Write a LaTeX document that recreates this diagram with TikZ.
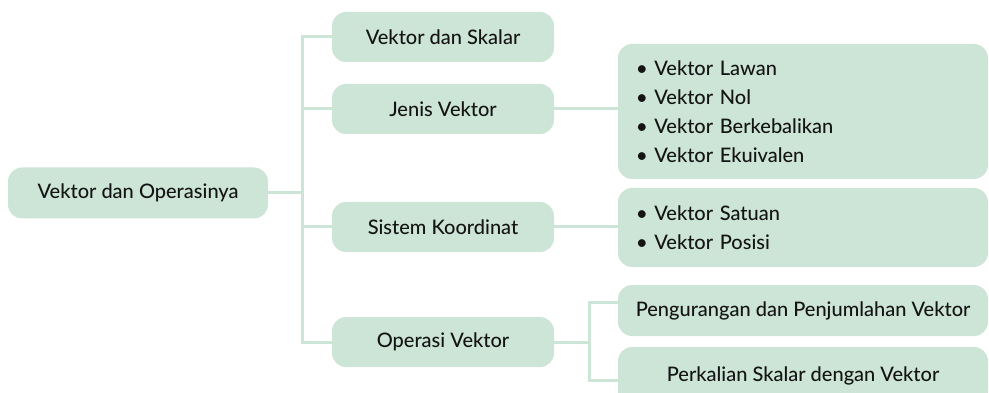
\documentclass[tikz,border=0pt]{standalone}
\usepackage{fontspec}
\setmainfont{Lato}[UprightFont={* Medium}]
\definecolor{boxgreen}{RGB}{205,229,214}
\definecolor{textc}{RGB}{20,20,20}
\begin{document}
\begin{tikzpicture}[x=1pt,y=-1pt,
  box/.style={fill=boxgreen, rounded corners=14pt, text=textc, inner sep=0pt,
    font=\fontsize{20}{29}\selectfont},
  link/.style={draw=boxgreen, line width=3pt}]
\useasboundingbox (0,0) rectangle (989,393);
\clip (0,0) rectangle (989,393);
\coordinate (trunk) at (302,0);
\coordinate (trunkb) at (589,0);
\coordinate (ppin) at (618,302);
\coordinate (psin) at (618,380);
% nodes
\node[box, minimum width=260pt, minimum height=51pt] (root) at (138,193) {Vektor dan Operasinya};
\node[box, minimum width=222pt, minimum height=50pt] (vs) at (443,37) {Vektor dan Skalar};
\node[box, minimum width=222pt, minimum height=50pt] (jv) at (443,109) {Jenis Vektor};
\node[box, minimum width=222pt, minimum height=50pt] (sk) at (443,227) {Sistem Koordinat};
\node[box, minimum width=222pt, minimum height=50pt] (ov) at (443,342) {Operasi Vektor};
\node[box, minimum height=135pt, text width=334pt, inner xsep=18pt, align=left] (jvl) at (803,111.5)
  {\mbox{• Vektor Lawan}\\\mbox{• Vektor Nol}\\\mbox{• Vektor Berkebalikan}\\\mbox{• Vektor Ekuivalen}};
\node[box, minimum height=79pt, text width=334pt, inner xsep=18pt, align=left] (skl) at (803,227.5)
  {\mbox{• Vektor Satuan}\\\mbox{• Vektor Posisi}};
\node[box, minimum width=370pt, minimum height=51pt] (pp) at (803,310.5) {Pengurangan dan Penjumlahan Vektor};
\node[box, minimum width=370pt, minimum height=58pt] (ps) at (803,376) {Perkalian Skalar dengan Vektor};
% links
\draw[link] (root.east) -- (root.east -| trunk);
\draw[link] (vs.west) -- (vs.west -| trunk) -- (ov.west -| trunk) -- (ov.west);
\draw[link] (jv.west) -- (jv.west -| trunk);
\draw[link] (sk.west) -- (sk.west -| trunk);
\draw[link] (jv.east) -- (jvl.west |- jv.east);
\draw[link] (sk.east) -- (skl.west |- sk.east);
\draw[link] (ov.east) -- (ov.east -| trunkb);
\draw[link] (ppin) -- (ppin -| trunkb) -- (psin -| trunkb) -- (psin);
\end{tikzpicture}
\end{document}
